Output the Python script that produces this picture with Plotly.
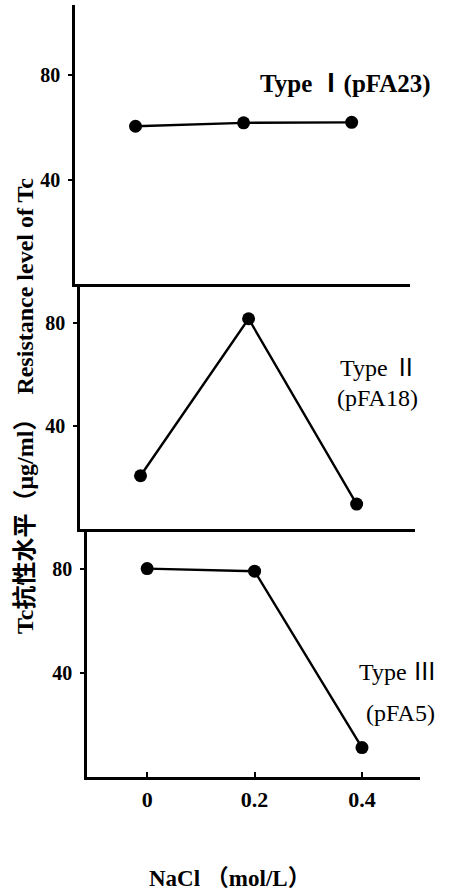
import plotly.graph_objects as go

W, H = 452, 894

nacl = [0, 0.2, 0.4]
type1_pfa23 = [60.5, 61.8, 62.0]
type2_pfa18 = [20.5, 81.5, 9.5]
type3_pfa5 = [80.0, 79.0, 11.3]

x_ticks = [0, 0.2, 0.4]
x_ticktext = ["0", "0.2", "0.4"]
y_ticks = [40, 80]
y_ticktext = ["40", "80"]

FONT = "Liberation Serif, Noto Sans CJK SC, serif"

def px(x):
    return x / W

def py(y):
    return 1 - y / H

fig = go.Figure()

series = [type1_pfa23, type2_pfa18, type3_pfa5]
for i, vals in enumerate(series):
    ax = "" if i == 0 else str(i + 1)
    fig.add_trace(go.Scatter(
        x=nacl, y=vals, mode="lines+markers",
        xaxis="x" + ax, yaxis="y" + ax,
        line=dict(color="black", width=2.4),
        marker=dict(color="black", size=13),
        showlegend=False, hoverinfo="skip"))

x_doms = [[px(75), px(410)], [px(80), px(415)], [px(87), px(420)]]
y_doms = [[py(284), py(5)], [py(528.5), py(284)], [py(777), py(528.5)]]
y_ranges = [[0, 107], [0, 95], [0, 95.4]]

layout = dict(
    width=W, height=H,
    margin=dict(l=0, r=0, t=0, b=0),
    paper_bgcolor="white", plot_bgcolor="white",
    font=dict(family=FONT, color="black"),
)

for i in range(3):
    ax = "" if i == 0 else str(i + 1)
    last = (i == 2)
    layout["xaxis" + ax] = dict(
        domain=x_doms[i], range=[-0.112, 0.508], anchor="y" + ax,
        showline=True, linecolor="black", linewidth=2.5,
        showgrid=False, zeroline=False,
        tickvals=x_ticks, ticktext=["<b>%s</b>" % t for t in x_ticktext],
        showticklabels=last,
        ticks="inside" if last else "", ticklen=5, tickwidth=2, tickcolor="black",
        ticklabelstandoff=1,
        tickfont=dict(family=FONT, size=22, color="black"),
    )
    layout["yaxis" + ax] = dict(
        domain=y_doms[i], range=y_ranges[i], anchor="x" + ax,
        showline=True, linecolor="black", linewidth=2.5,
        showgrid=False, zeroline=False,
        tickvals=y_ticks, ticktext=["<b>%s</b>" % t for t in y_ticktext],
        ticks="outside", ticklen=4, tickwidth=2, tickcolor="black",
        ticklabelstandoff=4,
        tickfont=dict(family=FONT, size=20, color="black"),
    )

fig.update_layout(**layout)

def ann(text, x, y, size=17, angle=0):
    fig.add_annotation(text=text, x=px(x), y=py(y), xref="paper", yref="paper",
                       showarrow=False, textangle=angle,
                       font=dict(family=FONT, size=size, color="black"),
                       xanchor="center", yanchor="middle")

ann("<b>Type Ⅰ(pFA23)</b>", 345, 84, size=25)
ann("Type Ⅱ", 379, 368, size=24)
ann("(pFA18)", 377, 398, size=24)
ann("Type Ⅲ", 398, 672, size=24)
ann("(pFA5)", 400, 713, size=24)
ann("<b>NaCl （mol/L）</b>", 230, 878, size=23)
ann("<b>Tc抗性水平（μg/ml）  Resistance level of Tc</b>", 25, 406, size=24, angle=-90)

fig.write_html("out.html")
